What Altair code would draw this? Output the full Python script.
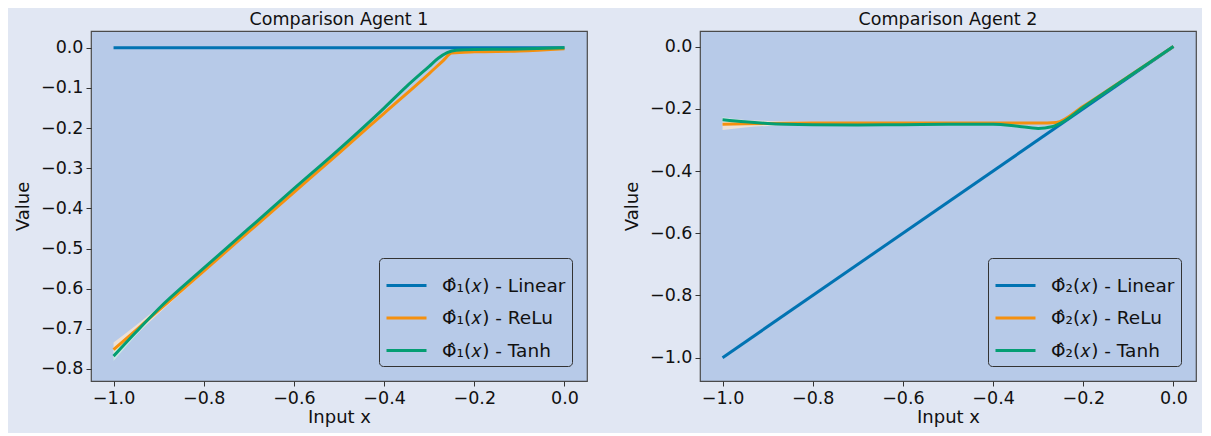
import altair as alt
import pandas as pd

# ---------------- data ----------------
# Agent 1
a1_lin_x = [-1.0, 0.0]
a1_lin_y = [0.0, 0.0]
a1_lin_hw = [0.0, 0.0]

a1_relu_x = [-1.0, -0.95, -0.9, -0.8, -0.7, -0.6, -0.5, -0.4, -0.3, -0.27, -0.25, -0.2, -0.1, 0.0]
a1_relu_y = [-0.752, -0.703, -0.654, -0.556, -0.458, -0.360, -0.262, -0.163, -0.064, -0.033, -0.013, -0.010, -0.008, -0.002]
a1_relu_hw = [0.018, 0.012, 0.008, 0.004, 0.003, 0.003, 0.003, 0.003, 0.003, 0.003, 0.003, 0.003, 0.002, 0.002]

a1_tanh_x = [-1.0, -0.95, -0.9, -0.8, -0.7, -0.6, -0.5, -0.4, -0.35, -0.3, -0.28, -0.26, -0.24, -0.2, -0.1, 0.0]
a1_tanh_y = [-0.768, -0.708, -0.650, -0.549, -0.450, -0.351, -0.253, -0.150, -0.096, -0.046, -0.026, -0.012, -0.006, -0.004, -0.003, 0.0]
a1_tanh_hw = [0.012, 0.008, 0.005, 0.003, 0.003, 0.003, 0.003, 0.004, 0.004, 0.004, 0.004, 0.003, 0.002, 0.002, 0.002, 0.001]

# Agent 2
a2_lin_x = [-1.0, 0.0]
a2_lin_y = [-1.0, 0.0]
a2_lin_hw = [0.0, 0.0]

a2_relu_x = [-1.0, -0.95, -0.9, -0.8, -0.6, -0.4, -0.3, -0.26, -0.2, -0.1, 0.0]
a2_relu_y = [-0.250, -0.248, -0.247, -0.246, -0.246, -0.246, -0.246, -0.244, -0.192, -0.096, 0.0]
a2_relu_hw = [0.018, 0.012, 0.008, 0.004, 0.003, 0.003, 0.003, 0.003, 0.003, 0.003, 0.002]

a2_tanh_x = [-1.0, -0.95, -0.9, -0.8, -0.7, -0.6, -0.5, -0.4, -0.35, -0.3, -0.27, -0.25, -0.2, -0.1, 0.0]
a2_tanh_y = [-0.235, -0.242, -0.247, -0.251, -0.252, -0.251, -0.250, -0.250, -0.255, -0.263, -0.258, -0.246, -0.195, -0.097, 0.0]
a2_tanh_hw = [0.008, 0.006, 0.004, 0.003, 0.003, 0.003, 0.003, 0.003, 0.004, 0.005, 0.004, 0.003, 0.003, 0.002, 0.001]

kinds = ["Linear", "ReLu", "Tanh"]
line_colors = ["#0173b2", "#f5900e", "#049e73"]
band_colors = ["#ffffff", "#ffe8d0", "#d4efe2"]

x_ticks = [-1.0, -0.8, -0.6, -0.4, -0.2, 0.0]
y1_ticks = [0.0, -0.1, -0.2, -0.3, -0.4, -0.5, -0.6, -0.7, -0.8]
y2_ticks = [0.0, -0.2, -0.4, -0.6, -0.8, -1.0]

FIG_BG = "#e1e7f3"
AX_BG = "#b7cae8"
FONT = "DejaVu Sans"
LBL = 17.5


def frame(idx, series):
    rows = []
    for kind, (xs, ys, hws) in zip(kinds, series):
        name = "Φ̂" + ("₁" if idx == 1 else "₂") + "(𝑥) - " + kind
        for x, y, h in zip(xs, ys, hws):
            rows.append({"x": x, "y": y, "lo": y - h, "hi": y + h, "series": name, "kind": kind})
    return pd.DataFrame(rows)


def panel(idx, df, ydom, yticks):
    names = ["Φ̂" + ("₁" if idx == 1 else "₂") + "(𝑥) - " + k for k in kinds]
    xs = alt.Scale(domain=[-1.05, 0.05], nice=False, zero=False)
    ys = alt.Scale(domain=ydom, nice=False, zero=False)
    xaxis = alt.Axis(values=x_ticks, format=".1f", title="Input x", grid=False)
    yaxis = alt.Axis(values=yticks, format=".1f", title="Value", grid=False)
    band = alt.Chart(df[df["kind"] != "Linear"]).mark_area(opacity=0.75, interpolate="monotone").encode(
        x=alt.X("x:Q", scale=xs, axis=xaxis),
        y=alt.Y("lo:Q", scale=ys, axis=yaxis),
        y2="hi:Q",
        fill=alt.Fill("series:N", scale=alt.Scale(domain=names, range=band_colors), legend=None),
        detail="series:N",
    )
    line = alt.Chart(df).mark_line(strokeWidth=3, interpolate="monotone").encode(
        x=alt.X("x:Q", scale=xs, axis=xaxis),
        y=alt.Y("y:Q", scale=ys, axis=yaxis),
        color=alt.Color(
            "series:N",
            scale=alt.Scale(domain=names, range=line_colors),
            legend=alt.Legend(
                title=None,
                orient="none",
                legendX=288,
                legendY=227,
                symbolType="stroke",
                symbolStrokeWidth=3,
                symbolSize=1600,
                rowPadding=1.5,
                labelFontSize=18.5,
                labelFont=FONT,
                labelColor="#111111",
                labelOffset=14,
                padding=6,
                strokeColor="#333333",
                fillColor=AX_BG,
                cornerRadius=4,
            ),
        ),
        order=alt.Order("x:Q"),
    )
    return alt.layer(band, line).resolve_scale(fill="independent").properties(
        width=496,
        height=350,
        title=alt.TitleParams(
            "Comparison Agent %d" % idx, fontSize=17.5, fontWeight="normal", font=FONT, color="#111111", offset=3
        ),
    )


df1 = frame(1, [(a1_lin_x, a1_lin_y, a1_lin_hw), (a1_relu_x, a1_relu_y, a1_relu_hw), (a1_tanh_x, a1_tanh_y, a1_tanh_hw)])
df2 = frame(2, [(a2_lin_x, a2_lin_y, a2_lin_hw), (a2_relu_x, a2_relu_y, a2_relu_hw), (a2_tanh_x, a2_tanh_y, a2_tanh_hw)])

p1 = panel(1, df1, [-0.83, 0.042], y1_ticks)
p2 = panel(2, df2, [-1.075, 0.05], y2_ticks)

chart = (
    alt.hconcat(p1, p2, spacing=34)
    .resolve_scale(color="independent", fill="independent")
    .resolve_legend(color="independent")
    .properties(background=FIG_BG, padding={"left": 5, "top": 1, "right": 5, "bottom": 5})
    .configure_view(fill=AX_BG, stroke="#4a4a4a", strokeWidth=1.2)
    .configure_axis(
        labelFont=FONT,
        titleFont=FONT,
        labelFontSize=LBL,
        titleFontSize=18,
        titleFontWeight="normal",
        labelColor="#111111",
        titleColor="#111111",
        tickColor="#333333",
        tickSize=5,
        domain=False,
        labelPadding=3,
    )
    .configure_axisY(titlePadding=8)
    .configure_axisX(titlePadding=2)
)

chart.save("out.html", embed_options={"renderer": "svg", "actions": False})
